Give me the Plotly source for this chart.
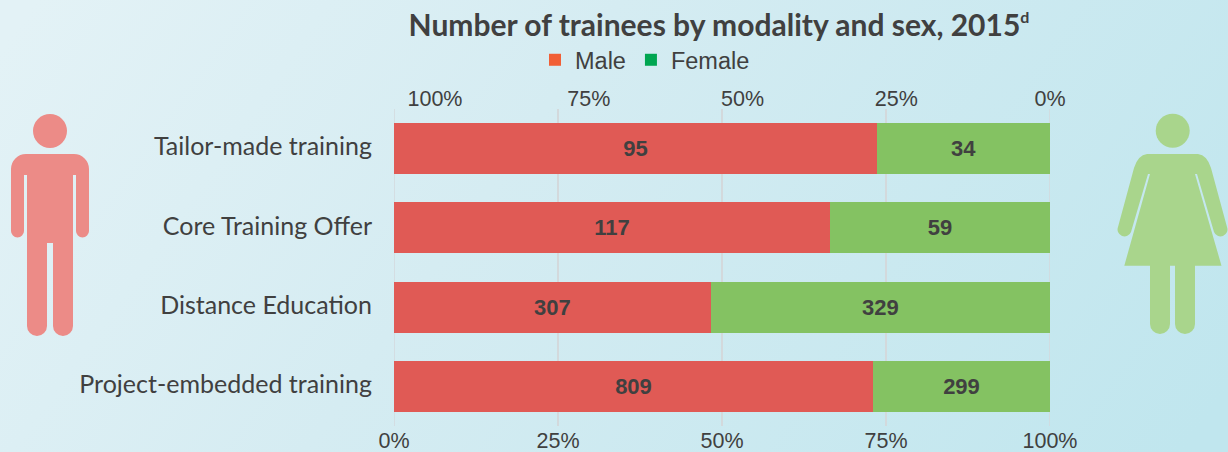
import base64
import plotly.graph_objects as go

categories = ["Tailor-made training", "Core Training Offer", "Distance Education", "Project-embedded training"]
male = [95, 117, 307, 809]
female = [34, 59, 329, 299]
bottom_ticks = [0, 25, 50, 75, 100]
top_ticks = [100, 75, 50, 25, 0]

W, H = 1228, 452
L, R, T, B = 394, 1050, 109, 426
INK = "#404040"
GRID = "#D3D9DC"

male_icon = ("M26 154 H74 A15 15 0 0 1 89 169 V231 A6.5 6.5 0 0 1 76 231 V175 H73 V326 "
             "A10 10 0 0 1 53 326 V243 H47 V326 A10 10 0 0 1 27 326 V175 H24 V231 A6.5 6.5 0 0 1 11 231 V169 A15 15 0 0 1 26 154 Z")
female_icon = ("M1147 154 H1198 Q1207 155 1211 168 L1227 227 A6.5 6.5 0 0 1 1214 232 L1197 174 H1195 L1221.5 265.7 H1195 V324 "
               "A10 10 0 0 1 1175 324 V265.7 H1170 V324 A10 10 0 0 1 1150 324 V265.7 H1124.3 L1150 174 H1148 L1131 232 "
               "A6.5 6.5 0 0 1 1118 227 L1134 168 Q1138 155 1147 154 Z")
bg_svg = f"""<svg xmlns='http://www.w3.org/2000/svg' width='{W}' height='{H}' viewBox='0 0 {W} {H}'>
<defs><linearGradient id='g' gradientUnits='userSpaceOnUse' x1='120' y1='-120' x2='1100' y2='570'>
<stop offset='0' stop-color='#E3F2F6'/><stop offset='0.4' stop-color='#D5ECF2'/><stop offset='1' stop-color='#C0E6EE'/></linearGradient></defs>
<rect width='{W}' height='{H}' fill='url(#g)'/>
<circle cx='50' cy='131' r='17' fill='#EC8B87'/><path d='{male_icon}' fill='#EC8B87'/>
<circle cx='1172.7' cy='130.7' r='17' fill='#A9D58C'/><path d='{female_icon}' fill='#A9D58C'/>
</svg>"""
bg_uri = "data:image/svg+xml;base64," + base64.b64encode(bg_svg.encode()).decode()

fig = go.Figure()
fig.add_bar(y=categories, x=male, orientation="h", marker=dict(color="#E05A55", line_width=0),
            text=male, textposition="inside", insidetextanchor="middle", showlegend=False, name="Male")
fig.add_bar(y=categories, x=female, orientation="h", marker=dict(color="#84C262", line_width=0),
            text=female, textposition="inside", insidetextanchor="middle", showlegend=False, name="Female")
fig.update_traces(textfont=dict(family="Liberation Sans", size=22, color=INK, weight="bold"), textangle=0,
                  hoverinfo="x+y")
fig.add_scatter(x=[None], y=[None], mode="markers", name="Male", marker=dict(symbol="square", size=12, color="#F15F36"))
fig.add_scatter(x=[None], y=[None], mode="markers", name="Female", marker=dict(symbol="square", size=12, color="#00A651"))
fig.add_scatter(x=top_ticks, y=[categories[0]] * len(top_ticks), xaxis="x2", mode="markers",
                marker=dict(opacity=0), showlegend=False, hoverinfo="skip")

fig.update_layout(
    width=W, height=H, autosize=False,
    margin=dict(l=L, r=W - R, t=T, b=H - B, pad=0, autoexpand=False),
    paper_bgcolor="rgba(0,0,0,0)", plot_bgcolor="rgba(0,0,0,0)",
    barmode="stack", barnorm="percent", bargap=0.355,
    images=[dict(source=bg_uri, xref="paper", yref="paper", x=-L / (R - L), y=B / (B - T),
                 sizex=W / (R - L), sizey=H / (B - T), xanchor="left", yanchor="top", sizing="stretch", layer="below")],
    shapes=[dict(type="line", xref="x", yref="paper", x0=v, x1=v, y0=0, y1=1, layer="below",
                 line=dict(color=GRID, width=1.5)) for v in (bottom_ticks[0], bottom_ticks[-1])],
    title=dict(text='Number of trainees by modality and sex, 2015<sup><span style="font-size:16px">d</span></sup>',
               font=dict(family="Lato", size=30, color=INK, weight="bold"),
               x=719 / W, xanchor="center", y=1 - 25 / H, yanchor="middle"),
    legend=dict(orientation="h", xref="container", yref="container", x=535 / W, xanchor="left",
                y=1 - 60 / H, yanchor="middle", traceorder="normal",
                font=dict(family="Liberation Sans", size=23.5, color=INK), bgcolor="rgba(0,0,0,0)",
                itemclick=False, itemdoubleclick=False),
    xaxis=dict(range=[0, 100], domain=[0, 1], tickvals=bottom_ticks, ticktext=[f"{t}%" for t in bottom_ticks],
               showgrid=True, gridcolor=GRID, gridwidth=1.5, zeroline=False, showline=False,
               ticks="", ticklabelstandoff=-1,
               tickfont=dict(family="Liberation Sans", size=21.5, color=INK)),
    xaxis2=dict(range=[100, 0], domain=[41 / (R - L), 1], anchor="y", side="top",
                tickvals=top_ticks, ticktext=[f"{t}%" for t in top_ticks], showgrid=False, zeroline=False,
                showline=False, ticks="", ticklabelstandoff=-2,
                tickfont=dict(family="Liberation Sans", size=21.5, color=INK)),
    yaxis=dict(categoryorder="array", categoryarray=categories[::-1], showgrid=False, zeroline=False, showline=False,
               ticks="outside", ticklen=16, tickcolor="rgba(0,0,0,0)", ticklabelshift=-2,
               tickfont=dict(family="Lato", size=25, color=INK)),
    showlegend=True,
)
fig.write_html("out.html", config={"displayModeBar": False},
               post_script="document.body.style.margin='0';window.dispatchEvent(new Event('resize'));")
